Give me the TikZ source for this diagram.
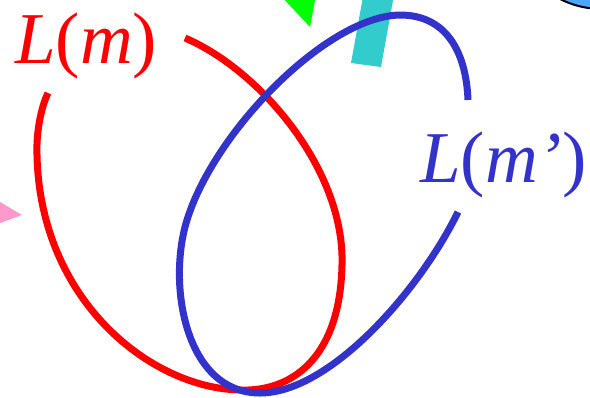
\documentclass[tikz,border=0pt]{standalone}
\usepackage{fontspec}
\setmainfont{Liberation Serif}
\definecolor{loopred}{HTML}{FF0000}
\definecolor{loopblue}{HTML}{3333CC}
\definecolor{tealbar}{HTML}{33CCCC}
\definecolor{pinktri}{HTML}{FF99CC}
\definecolor{skyblue}{HTML}{4DA6FF}

\begin{document}
\begin{tikzpicture}[x=1pt, y=-1pt,
    loopline/.style={line width=7pt},
    looplabel/.style={anchor=base west, inner sep=0pt, font=\fontsize{73}{80}\selectfont}]
  \useasboundingbox (0,0) rectangle (590,397);
  \clip (0,0) rectangle (590,397);
  \fill[green] (280,-5) -- (316,-5) -- (310,27) -- cycle;
  \fill[tealbar] (364,-9) -- (394,-5) -- (381,67) -- (351,63) -- cycle;
  \fill[pinktri] (-5,199) -- (22,215) -- (-5,225) -- cycle;
  \filldraw[fill=skyblue, draw=black, line width=2pt] (602,-84) circle (93);
  \draw[loopline, loopred] (185,38) .. controls (260,70) and (345,170) .. (342,265)
    .. controls (340,360) and (290,392) .. (240,390)
    .. controls (150,388) and (40,300) .. (37,155)
    .. controls (36,130) and (42,105) .. (48,93);
  \draw[loopline, loopblue] (468,100) .. controls (466,50) and (445,15) .. (400,15)
    .. controls (328,16) and (215,130) .. (187,220)
    .. controls (167,284) and (185,393) .. (260,393)
    .. controls (330,393) and (420,290) .. (458,212);
  \node[looplabel, text=loopred] (lm) at (15,63) {\textit{L}(\textit{m})};
  \node[looplabel, text=loopblue] (lmp) at (420,182) {\textit{L}(\textit{m’})};
\end{tikzpicture}
\end{document}
